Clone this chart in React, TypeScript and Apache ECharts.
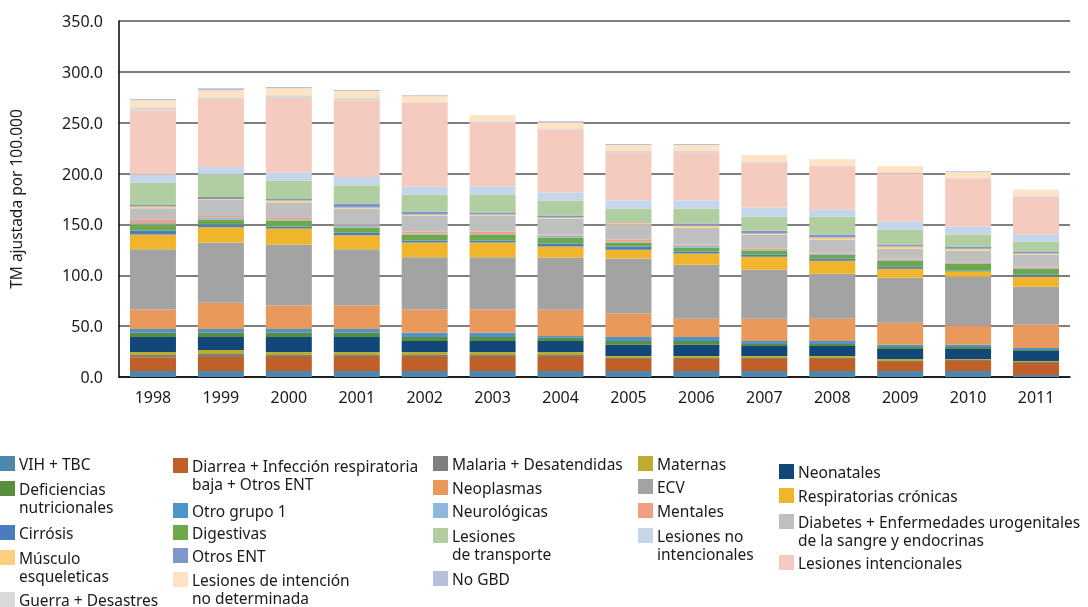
import React, { useEffect, useRef } from "react";
import * as echarts from "echarts";

const years = ["1998","1999","2000","2001","2002","2003","2004","2005","2006","2007","2008","2009","2010","2011"];
const yTicks = { min: 0, max: 350, interval: 50 };

// Series (stack order bottom -> top)
const vihTbc = [5.9,5.9,5.9,5.9,5.9,5.9,5.9,5.9,5.9,5.9,5.9,5.9,5.9,2.0];
const diarrea = [13.5,13.8,13.8,13.8,13.8,13.8,13.8,11.9,11.9,11.9,11.9,8.9,9.9,11.8];
const malaria = [2.3,3.0,2.0,2.0,2.0,2.0,2.0,0.9,0.9,0.9,0.9,1.0,1.0,1.0];
const maternas = [3.0,3.9,3.0,3.0,3.0,3.0,3.0,2.0,2.0,2.0,2.0,2.0,1.0,1.0];
const neonatales = [14.7,12.8,14.7,14.7,10.8,10.8,10.8,10.9,10.9,9.9,9.9,9.8,9.8,9.8];
const deficiencias = [4.0,4.0,4.0,4.0,3.9,3.9,3.0,3.9,3.9,1.9,1.9,2.0,2.0,1.0];
const otroGrupo1 = [3.9,3.9,3.9,3.9,4.0,4.0,1.9,3.9,3.9,3.0,3.0,2.0,2.0,2.0];
const neoplasmas = [19.1,25.7,23.0,23.0,23.0,23.0,25.7,23.1,17.8,21.7,21.7,21.7,19.0,22.7];
const ecv = [59.2,59.2,59.9,55.3,51.3,51.3,51.3,53.9,53.2,48.3,44.4,44.3,48.0,37.5];
const respiratorias = [14.4,15.1,15.8,13.8,14.5,14.5,10.8,8.8,10.9,12.8,12.8,8.9,5.0,9.8];
const cirrosis = [4.0,2.7,1.9,2.6,1.9,1.9,3.0,3.0,2.0,2.0,2.0,2.0,0.9,2.0];
const digestivas = [5.9,4.8,5.9,5.0,5.9,5.9,5.9,4.0,3.9,4.0,3.9,5.9,6.9,5.9];
const neurologicas = [1.6,2.0,1.4,2.3,1.0,0.5,2.0,0.9,2.0,0.6,1.0,1.0,1.0,1.0];
const mentales = [3.6,1.4,1.9,0.9,2.0,2.5,0.9,2.0,1.0,1.3,1.0,1.0,1.0,1.0];
const diabetes = [10.9,15.7,14.5,15.5,15.8,15.8,15.8,14.8,16.8,13.8,12.8,9.8,10.9,11.8];
const musculo = [1.6,1.0,2.0,1.0,1.0,1.0,1.0,2.0,2.0,1.0,2.0,2.0,1.9,1.0];
const otrosEnt = [1.4,2.0,1.3,3.9,2.9,1.9,2.0,1.0,1.9,2.9,2.9,2.0,2.0,2.0];
const transporte = [22.3,22.3,18.4,17.8,16.8,17.8,14.8,12.8,14.8,13.9,17.8,14.7,11.8,9.8];
const noIntencionales = [7.9,7.2,7.9,8.2,7.9,7.9,7.9,7.9,7.9,8.9,6.9,8.0,7.9,6.9];
const intencionales = [63.1,66.8,73.0,75.6,82.8,62.4,62.1,46.7,46.7,44.4,42.4,47.3,47.4,37.5];
const guerra = [3.0,1.9,2.9,2.0,0.5,1.7,1.0,1.9,1.9,0.9,1.0,1.0,0.3,0.9];
const indeterminada = [6.9,6.9,6.9,6.9,5.4,5.9,5.9,6.0,6.0,6.0,5.9,5.9,5.9,6.0];
const noGbd = [1.0,2.0,1.0,1.0,1.0,0,1.0,0.9,0.9,0,0,0,0.7,0];

const seriesNames = [
  "VIH + TBC",
  "Diarrea + Infección respiratoria baja + Otros ENT",
  "Malaria + Desatendidas",
  "Maternas",
  "Neonatales",
  "Deficiencias nutricionales",
  "Otro grupo 1",
  "Neoplasmas",
  "ECV",
  "Respiratorias crónicas",
  "Cirrósis",
  "Digestivas",
  "Neurológicas",
  "Mentales",
  "Diabetes + Enfermedades urogenitales de la sangre y endocrinas",
  "Músculo esqueleticas",
  "Otros ENT",
  "Lesiones de transporte",
  "Lesiones no intencionales",
  "Lesiones intencionales",
  "Guerra + Desastres",
  "Lesiones de intención no determinada",
  "No GBD",
];
const seriesData = [
  vihTbc, diarrea, malaria, maternas, neonatales, deficiencias, otroGrupo1,
  neoplasmas, ecv, respiratorias, cirrosis, digestivas, neurologicas, mentales,
  diabetes, musculo, otrosEnt, transporte, noIntencionales, intencionales,
  guerra, indeterminada, noGbd,
];
const seriesColors = [
  "#4f86ad", "#c06028", "#7f7f7f", "#bdac30", "#12477a", "#5b8d3f", "#4e94cb",
  "#ea995c", "#a3a3a3", "#f0b52a", "#4a7cc0", "#6fa84a", "#8fb8de", "#ef9f83",
  "#bfbfbf", "#fdd07f", "#7f96cb", "#b0cea0", "#c5d6eb", "#f5cbbf", "#d9d9d9",
  "#fee3c5", "#b6c0db",
];
// Legend labels as printed (line breaks)
const legendLabels: Record<string, string> = {
  "Diarrea + Infección respiratoria baja + Otros ENT": "Diarrea + Infección respiratoria\nbaja + Otros ENT",
  "Deficiencias nutricionales": "Deficiencias\nnutricionales",
  "Músculo esqueleticas": "Músculo\nesqueleticas",
  "Lesiones de intención no determinada": "Lesiones de intención\nno determinada",
  "Lesiones de transporte": "Lesiones\nde transporte",
  "Lesiones no intencionales": "Lesiones no\nintencionales",
  "Diabetes + Enfermedades urogenitales de la sangre y endocrinas": "Diabetes + Enfermedades urogenitales\nde la sangre y endocrinas",
};

const FONT = "'Noto Sans', sans-serif";

// legend layout: [seriesIndex, x of square, center y of first line]
const legendLayout: [number, number, number][] = [
  [0, 0, 464], [5, 0, 489], [10, 0, 533], [15, 0, 558], [20, 0, 600],
  [1, 173, 466], [6, 173, 511], [11, 173, 533], [16, 173, 556], [21, 173, 580],
  [2, 433, 464], [7, 433, 488], [12, 433, 511], [17, 433, 536], [22, 433, 579],
  [3, 638, 464], [8, 638, 487], [13, 638, 511], [18, 638, 536],
  [4, 779, 472], [9, 779, 496], [14, 779, 522], [19, 779, 563],
];

export default function App() {
  const ref = useRef<HTMLDivElement>(null);
  useEffect(() => {
    if (!ref.current) return;
    const chart = echarts.init(ref.current, null, { renderer: "svg" });
    const graphics: any[] = [];
    legendLayout.forEach(([si, x, cy]) => {
      const name = seriesNames[si];
      graphics.push({
        type: "rect",
        left: x, top: cy - 8,
        shape: { x: 0, y: 0, width: 15, height: 15 },
        style: { fill: seriesColors[si] },
      });
      graphics.push({
        type: "text",
        left: x + 19, top: cy - 9,
        style: {
          text: legendLabels[name] || name,
          font: `15.5px ${FONT}`,
          fill: "#1a1a1a",
          lineHeight: 18,
        },
      });
    });
    chart.setOption({
      animation: false,
      textStyle: { fontFamily: FONT },
      grid: { left: 118, right: 18, top: 21, bottom: 230, containLabel: false },
      xAxis: {
        type: "category",
        data: years,
        axisLine: { lineStyle: { color: "#000", width: 1.5 } },
        axisTick: { show: false },
        axisLabel: { color: "#1a1a1a", fontSize: 16, margin: 12, fontFamily: FONT },
      },
      yAxis: {
        type: "value",
        min: yTicks.min, max: yTicks.max, interval: yTicks.interval,
        name: "TM ajustada por 100.000",
        nameLocation: "middle",
        nameGap: 95,
        nameTextStyle: { color: "#1a1a1a", fontSize: 15.5, fontFamily: FONT },
        axisLine: { show: true, lineStyle: { color: "#000", width: 1.5 } },
        axisTick: { show: false },
        axisLabel: {
          color: "#1a1a1a", fontSize: 16, margin: 16, fontFamily: FONT,
          formatter: (v: number) => v.toFixed(1),
        },
        splitLine: { lineStyle: { color: "#555", width: 1.6 } },
      },
      series: seriesNames.map((n, i) => ({
        name: n,
        type: "bar",
        stack: "total",
        barWidth: 46,
        itemStyle: { color: seriesColors[i] },
        data: seriesData[i],
      })),
      graphic: graphics,
    });
    return () => chart.dispose();
  }, []);
  return (
    <div
      ref={ref}
      style={{ position: "fixed", left: 0, top: 0, width: 1088, height: 607 }}
    />
  );
}
